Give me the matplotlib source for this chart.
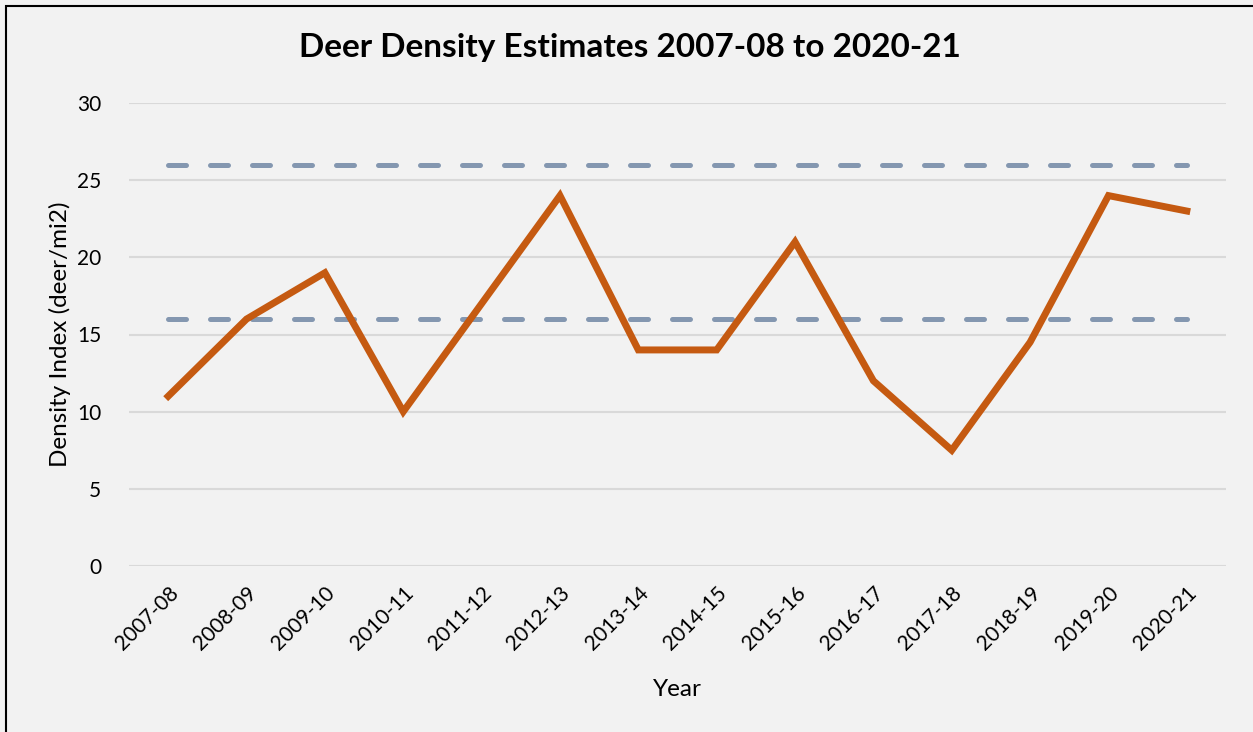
import numpy as np
import matplotlib.pyplot as plt
from matplotlib.patches import Rectangle

# dados
years = ['2007-08', '2008-09', '2009-10', '2010-11', '2011-12', '2012-13', '2013-14',
         '2014-15', '2015-16', '2016-17', '2017-18', '2018-19', '2019-20', '2020-21']
density = [11, 16, 19, 10, 17, 24, 14, 14, 21, 12, 7.5, 14.5, 24, 23]
goal_low = 16
goal_high = 26

plt.rcParams['font.family'] = ['Lato', 'DejaVu Sans']

fig = plt.figure(figsize=(12.53, 7.32), dpi=100, facecolor='#F2F2F2')
ax = fig.add_axes([129/1253, 1-566/732, (1226-129)/1253, (566-103)/732])
ax.set_facecolor('#F2F2F2')

x = np.arange(len(years))
for g in [goal_low, goal_high]:
    ax.plot(x, [g]*len(x), color='#8497B0', lw=3.6, dashes=(3.6, 4.8),
            dash_capstyle='round', zorder=2)
ax.plot(x, density, color='#C55A11', lw=5, solid_joinstyle='miter', zorder=3)

ax.set_xlim(-0.5, len(years)-0.5)
ax.set_ylim(0, 30)
ax.set_yticks(range(0, 31, 5))
ax.set_xticks(x)
ax.set_xticklabels(years, rotation=45, ha='right', rotation_mode='anchor')
ax.grid(axis='y', color='#D9D9D9', lw=1.5)
ax.set_axisbelow(True)
ax.tick_params(length=0, labelsize=15, colors='black', pad=12)
ax.tick_params(axis='y', pad=20)
for s in ax.spines.values():
    s.set_visible(False)

ax.set_ylabel('Density Index (deer/mi2)', fontsize=17.5, labelpad=4)
ax.set_xlabel('Year', fontsize=17.5, labelpad=18)
fig.text(630/1253, 1-47/732, 'Deer Density Estimates 2007-08 to 2020-21',
         ha='center', va='center', fontsize=24, fontweight='bold')

# moldura
fig.patches.append(Rectangle((6/1253, -0.1), 1.2, 1-6/732+0.1, transform=fig.transFigure,
                             fill=False, edgecolor='black', lw=1.5))

fig.savefig('out.png', dpi=100, facecolor=fig.get_facecolor())
